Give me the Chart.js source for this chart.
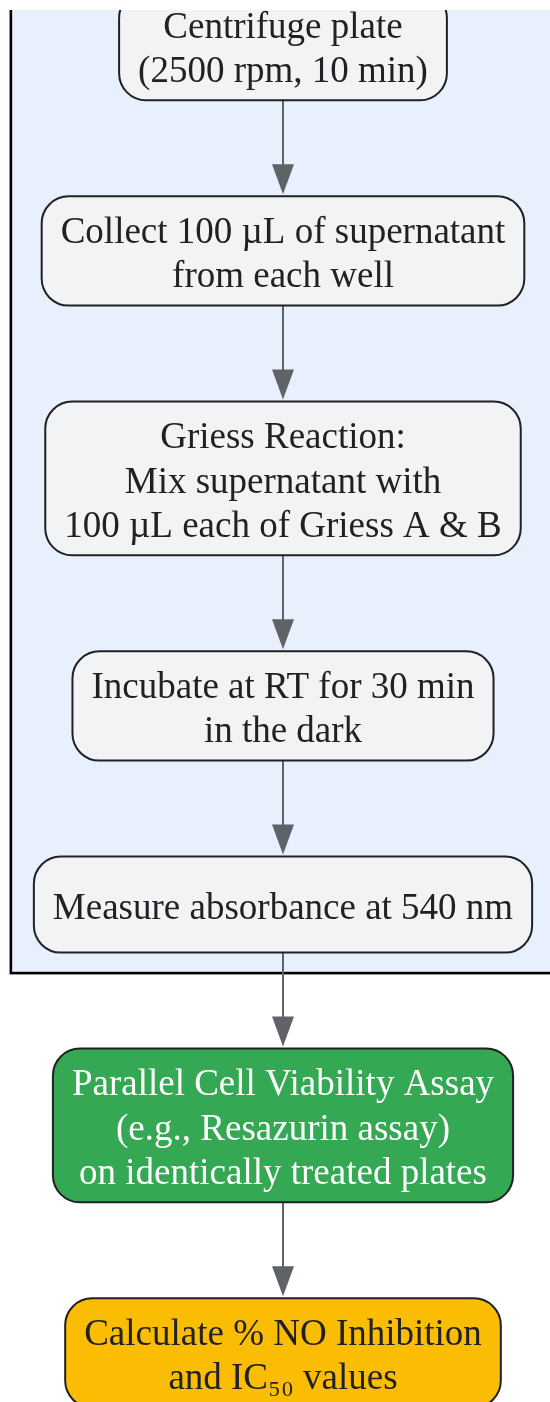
<!DOCTYPE html>
<html>
<head>
<meta charset="utf-8">
<script src="https://cdn.jsdelivr.net/npm/chart.js@4.4.1/dist/chart.umd.min.js"></script>
<style>
  html, body { margin: 0; padding: 0; background: #ffffff; }
  #wrap { width: 550px; height: 1402px; position: relative; }
</style>
</head>
<body>
<div id="wrap"><canvas id="flow"></canvas></div>
<script>
// Steps of the assay, top to bottom (one entry per box, one string per line)
const STEP_LINES = [
  ['Centrifuge plate', '(2500 rpm, 10 min)'],
  ['Collect 100 µL of supernatant', 'from each well'],
  ['Griess Reaction:', 'Mix supernatant with', '100 µL each of Griess A & B'],
  ['Incubate at RT for 30 min', 'in the dark'],
  ['Measure absorbance at 540 nm'],
  ['Parallel Cell Viability Assay', '(e.g., Resazurin assay)', 'on identically treated plates'],
  ['Calculate % NO Inhibition', 'and IC₅₀ values'],
];
const STEP_KIND = ['plain', 'plain', 'plain', 'plain', 'plain', 'viability', 'result'];
const IN_GROUP = [true, true, true, true, true, false, false];

const KIND_STYLE = {
  plain: { fill: '#f1f3f4', text: '#202124' },
  viability: { fill: '#34a853', text: '#ffffff' },
  result: { fill: '#fbbc04', text: '#202124' },
};

const FONT = '37px "Liberation Serif", "Times New Roman", serif';
const LINE_H = 44.4;
const GAP = 96;
const PAD_X = 19;

// node heights from line count, then stacked with a fixed gap
function nodeHeight(n) {
  return Math.max(96, n * LINE_H + 20.5);
}
const heights = STEP_LINES.map(l => nodeHeight(l.length));
const centers = [];
let cursor = -9;
heights.forEach(h => {
  centers.push(cursor + h / 2);
  cursor += h + GAP;
});

function roundRect(ctx, x, y, w, h, r) {
  ctx.beginPath();
  ctx.moveTo(x + r, y);
  ctx.lineTo(x + w - r, y);
  ctx.arcTo(x + w, y, x + w, y + r, r);
  ctx.lineTo(x + w, y + h - r);
  ctx.arcTo(x + w, y + h, x + w - r, y + h, r);
  ctx.lineTo(x + r, y + h);
  ctx.arcTo(x, y + h, x, y + h - r, r);
  ctx.lineTo(x, y + r);
  ctx.arcTo(x, y, x + r, y, r);
  ctx.closePath();
}

const flowPlugin = {
  id: 'flow',
  afterDatasetsDraw(chart) {
    const { ctx, scales, width, height } = chart;
    const pts = chart.getDatasetMeta(0).data;
    ctx.save();
    ctx.beginPath();
    ctx.rect(0, 10, width, height - 10);
    ctx.clip();
    ctx.font = FONT;

    const boxes = pts.map((p, i) => {
      const tw = Math.max(...STEP_LINES[i].map(s => ctx.measureText(s).width));
      const w = tw + PAD_X * 2;
      const hPx = Math.abs(scales.y.getPixelForValue(heights[i]) - scales.y.getPixelForValue(0));
      return { x: p.x - w / 2, y: p.y - hPx / 2, w, h: hPx, cx: p.x, cy: p.y };
    });

    // subgraph container
    const grp = boxes.filter((b, i) => IN_GROUP[i]);
    const gLeft = Math.min(...grp.map(b => b.x)) - 23;
    const gRight = Math.max(...grp.map(b => b.x + b.w)) + 23;
    const gTop = Math.min(...grp.map(b => b.y)) - 22;
    const gBottom = Math.max(...grp.map(b => b.y + b.h)) + 20.5;
    ctx.fillStyle = '#e8f0fe';
    ctx.fillRect(gLeft, gTop, gRight - gLeft, gBottom - gTop);
    ctx.strokeStyle = '#000000';
    ctx.lineWidth = 2.6;
    ctx.strokeRect(gLeft, gTop, gRight - gLeft, gBottom - gTop);

    // arrows
    ctx.strokeStyle = '#5f6368';
    ctx.fillStyle = '#5f6368';
    for (let i = 0; i < boxes.length - 1; i++) {
      const a = boxes[i], b = boxes[i + 1];
      const tip = b.y - 2;
      ctx.lineWidth = 2;
      ctx.beginPath();
      ctx.moveTo(a.cx, a.y + a.h);
      ctx.lineTo(a.cx, tip - 24);
      ctx.stroke();
      ctx.beginPath();
      ctx.moveTo(b.cx, tip);
      ctx.lineTo(b.cx - 11, tip - 30);
      ctx.lineTo(b.cx + 11, tip - 30);
      ctx.closePath();
      ctx.fill();
    }

    // boxes and labels
    boxes.forEach((b, i) => {
      const st = KIND_STYLE[STEP_KIND[i]];
      roundRect(ctx, b.x, b.y, b.w, b.h, 27);
      ctx.fillStyle = st.fill;
      ctx.fill();
      ctx.strokeStyle = '#202124';
      ctx.lineWidth = 2;
      ctx.stroke();
      ctx.fillStyle = st.text;
      ctx.textAlign = 'center';
      ctx.textBaseline = 'middle';
      const lines = STEP_LINES[i];
      lines.forEach((s, k) => {
        const y = b.cy + (k - (lines.length - 1) / 2) * LINE_H + 4.5;
        ctx.fillText(s, b.cx, y);
      });
    });
    ctx.restore();
  }
};

new Chart(document.getElementById('flow').getContext('2d'), {
  type: 'scatter',
  data: {
    datasets: [{
      data: centers.map(c => ({ x: 0, y: c })),
      pointRadius: 0,
      pointHoverRadius: 0,
    }],
  },
  options: {
    responsive: true,
    maintainAspectRatio: false,
    animation: false,
    layout: { padding: { left: 16, right: 0, top: 0, bottom: 0 } },
    plugins: { legend: { display: false }, tooltip: { enabled: false } },
    scales: {
      x: { type: 'linear', min: -1, max: 1, display: false },
      y: { type: 'linear', min: 0, max: 1402, reverse: true, display: false },
    },
  },
  plugins: [flowPlugin],
});
</script>
</body>
</html>
